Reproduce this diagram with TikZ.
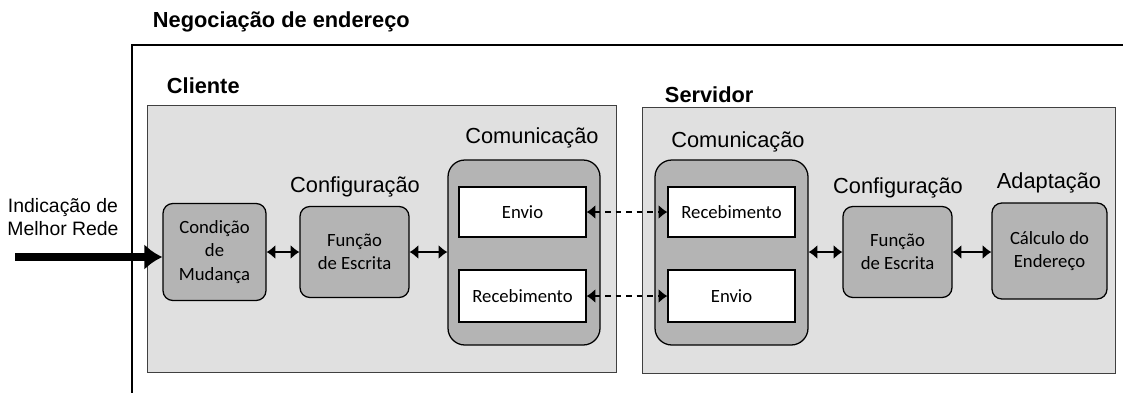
\documentclass[tikz,border=0pt]{standalone}
\usepackage{fontspec}
\setmainfont{Liberation Sans}
\newfontfamily\caixafont{Carlito}
\usetikzlibrary{arrows.meta, positioning, calc}
\definecolor{fundo}{HTML}{E0E0E0}
\definecolor{bloco}{HTML}{B4B4B4}

\begin{document}
\begin{tikzpicture}[
        lado/.style={
            rectangle,
            fill=fundo,
            draw=black!75,
            line width=0.6pt
        },
        bloque/.style={
            rectangle,
            rounded corners=7pt,
            fill=bloco,
            draw=black,
            line width=0.9pt,
            align=center,
            font=\caixafont\fontsize{13.3}{16.5}\selectfont
        },
        interno/.style={
            rectangle,
            fill=white,
            draw=black,
            line width=0.9pt,
            minimum width=3.175cm,
            font=\caixafont\fontsize{13.3}{16}\selectfont
        },
        rotulo/.style={font=\fontsize{15.5}{18}\selectfont},
        titulo/.style={font=\bfseries\fontsize{15.5}{18}\selectfont, anchor=west},
        flecha/.style={{Latex[length=2.2mm,width=3.6mm]}-{Latex[length=2.2mm,width=3.6mm]}, line width=1.2pt},
        tracejada/.style={flecha, line width=1.5pt, dash pattern=on 4pt off 3.5pt}
    ]
        \useasboundingbox (0,0) rectangle (28.075,-9.8);

        % moldura externa
        \draw[line width=0.9pt] (3.3,-9.9) -- (3.3,-1.125) -- (28.2,-1.125);
        \node[titulo] (negociacao) at (3.7,-0.55) {Negociação de endereço};

        % cliente e servidor
        \node[lado, minimum width=11.725cm, minimum height=6.675cm] (cliente) at (9.5375,-5.9625) {};
        \node[titulo] (clientet) at (4.05,-2.15) {Cliente};
        \node[lado, minimum width=11.825cm, minimum height=6.65cm] (servidor) at (21.9625,-6.0) {};
        \node[titulo] (servidort) at (16.5,-2.375) {Servidor};

        % lado do cliente
        \node[bloque, minimum width=2.575cm, minimum height=2.425cm] (condicao) at (5.3625,-6.3)
            {Condição\\de\\Mudança};
        \node[bloque, minimum width=2.725cm, minimum height=2.275cm] (funcaoc) at (8.8625,-6.3)
            {Função\\de Escrita};
        \node[rotulo] (configc) at (8.875,-4.675) {Configuração};
        \node[bloque, rounded corners=12pt, minimum width=3.8cm, minimum height=4.625cm] (comc) at (13.1,-6.3125) {};
        \node[rotulo] (comct) at (13.3,-3.45) {Comunicação};
        \node[interno, minimum height=1.25cm] (envioc) at (13.0625,-5.3) {Envio};
        \node[interno, minimum height=1.3cm] (recebc) at (13.0625,-7.4) {Recebimento};

        % lado do servidor
        \node[bloque, rounded corners=12pt, minimum width=3.825cm, minimum height=4.625cm] (coms) at (18.2875,-6.3125) {};
        \node[rotulo] (comst) at (18.45,-3.55) {Comunicação};
        \node[interno, minimum height=1.25cm] (recebs) at (18.2875,-5.3) {Recebimento};
        \node[interno, minimum height=1.3cm] (envios) at (18.2875,-7.4) {Envio};
        \node[bloque, minimum width=2.725cm, minimum height=2.275cm] (funcaos) at (22.4375,-6.3)
            {Função\\de Escrita};
        \node[rotulo] (configs) at (22.45,-4.7) {Configuração};
        \node[bloque, minimum width=2.875cm, minimum height=2.4cm] (calculo) at (26.2375,-6.275)
            {Cálculo do\\Endereço};
        \node[rotulo] (adaptacao) at (26.225,-4.575) {Adaptação};

        % entrada
        \node[align=center, font=\fontsize{13.8}{16.5}\selectfont] (indicacao) at (1.575,-5.425)
            {Indicação de\\Melhor Rede};
        \coordinate (entrada) at (0.375,-6.425);
        \draw[-{Latex[length=4.5mm,width=6.5mm]}, line width=5.5pt] (entrada) -- (entrada -| condicao.west);

        \draw[flecha] (condicao.east) -- (funcaoc.west);
        \draw[flecha] (funcaoc.east) -- (funcaoc.east -| comc.west);
        \draw[tracejada] (envioc.east) -- (recebs.west);
        \draw[tracejada] (recebc.east) -- (envios.west);
        \draw[flecha] (coms.east |- funcaos.east) -- (funcaos.west);
        \draw[flecha] (funcaos.east) -- (funcaos.east -| calculo.west);
    \end{tikzpicture}
\end{document}
